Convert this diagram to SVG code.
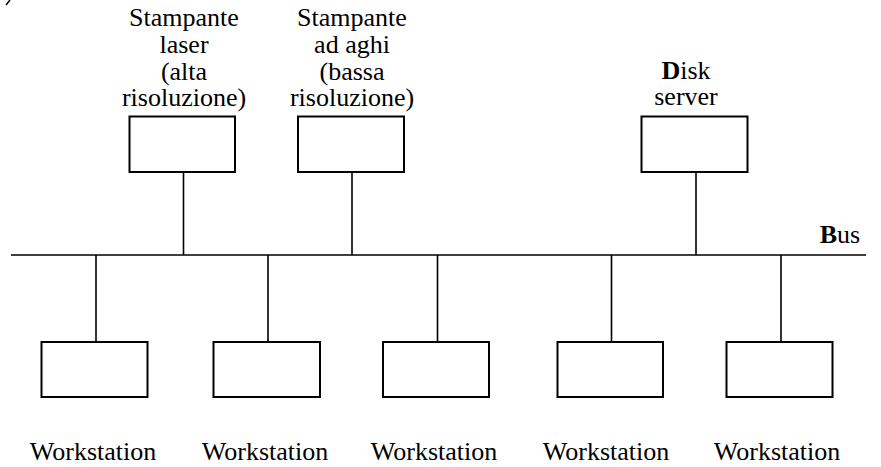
<svg xmlns="http://www.w3.org/2000/svg" width="881" height="467" viewBox="0 0 881 467">
  <style>
    .box { fill: #fff; stroke: #000; stroke-width: 2; }
    .wire { stroke: #000; stroke-width: 1.6; fill: none; }
  </style>
  <rect width="881" height="467" fill="#fff"/>

  <!-- corner mark -->
  <path d="M10 0 L6 5" stroke="#000" stroke-width="1.5"/>

  <!-- bus and drop lines -->
  <g id="connectors">
    <line class="wire" x1="11" y1="255" x2="866" y2="255"/>
    <line class="wire" x1="183.5" y1="172" x2="183.5" y2="255"/>
    <line class="wire" x1="352" y1="172" x2="352" y2="255"/>
    <line class="wire" x1="696" y1="172" x2="696" y2="255"/>
    <line class="wire" x1="96" y1="255" x2="96" y2="342"/>
    <line class="wire" x1="268" y1="255" x2="268" y2="342"/>
    <line class="wire" x1="437.5" y1="255" x2="437.5" y2="342"/>
    <line class="wire" x1="611.5" y1="255" x2="611.5" y2="342"/>
    <line class="wire" x1="781" y1="255" x2="781" y2="342"/>
  </g>

  <g font-family="'Liberation Serif', serif" font-size="26px" text-anchor="middle" fill="#000">
    <g id="bus-label">
      <text x="840" y="243"><tspan font-weight="bold">B</tspan>us</text>
    </g>

    <g id="laser-printer">
      <rect class="box" x="129.5" y="116.5" width="105.5" height="55.5"/>
      <text x="184" y="26">Stampante</text>
      <text x="184" y="53">laser</text>
      <text x="184" y="79.5">(alta</text>
      <text x="184" y="106">risoluzione)</text>
    </g>

    <g id="dot-matrix-printer">
      <rect class="box" x="298" y="116.5" width="106" height="55.5"/>
      <text x="352" y="26">Stampante</text>
      <text x="352" y="53">ad aghi</text>
      <text x="352" y="79.5">(bassa</text>
      <text x="352" y="106">risoluzione)</text>
    </g>

    <g id="disk-server">
      <rect class="box" x="641.5" y="116.5" width="106" height="55.5"/>
      <text x="686" y="78.5"><tspan font-weight="bold">D</tspan>isk</text>
      <text x="686" y="104.5">server</text>
    </g>

    <g id="workstation-1">
      <rect class="box" x="41.5" y="342" width="106" height="55"/>
      <text x="93" y="460">Workstation</text>
    </g>
    <g id="workstation-2">
      <rect class="box" x="213.5" y="342" width="106.5" height="55"/>
      <text x="265" y="460">Workstation</text>
    </g>
    <g id="workstation-3">
      <rect class="box" x="383" y="342" width="106" height="55"/>
      <text x="434" y="460">Workstation</text>
    </g>
    <g id="workstation-4">
      <rect class="box" x="557.5" y="342" width="105.5" height="55"/>
      <text x="606" y="460">Workstation</text>
    </g>
    <g id="workstation-5">
      <rect class="box" x="726.5" y="342" width="106" height="55"/>
      <text x="777" y="460">Workstation</text>
    </g>
  </g>
</svg>
